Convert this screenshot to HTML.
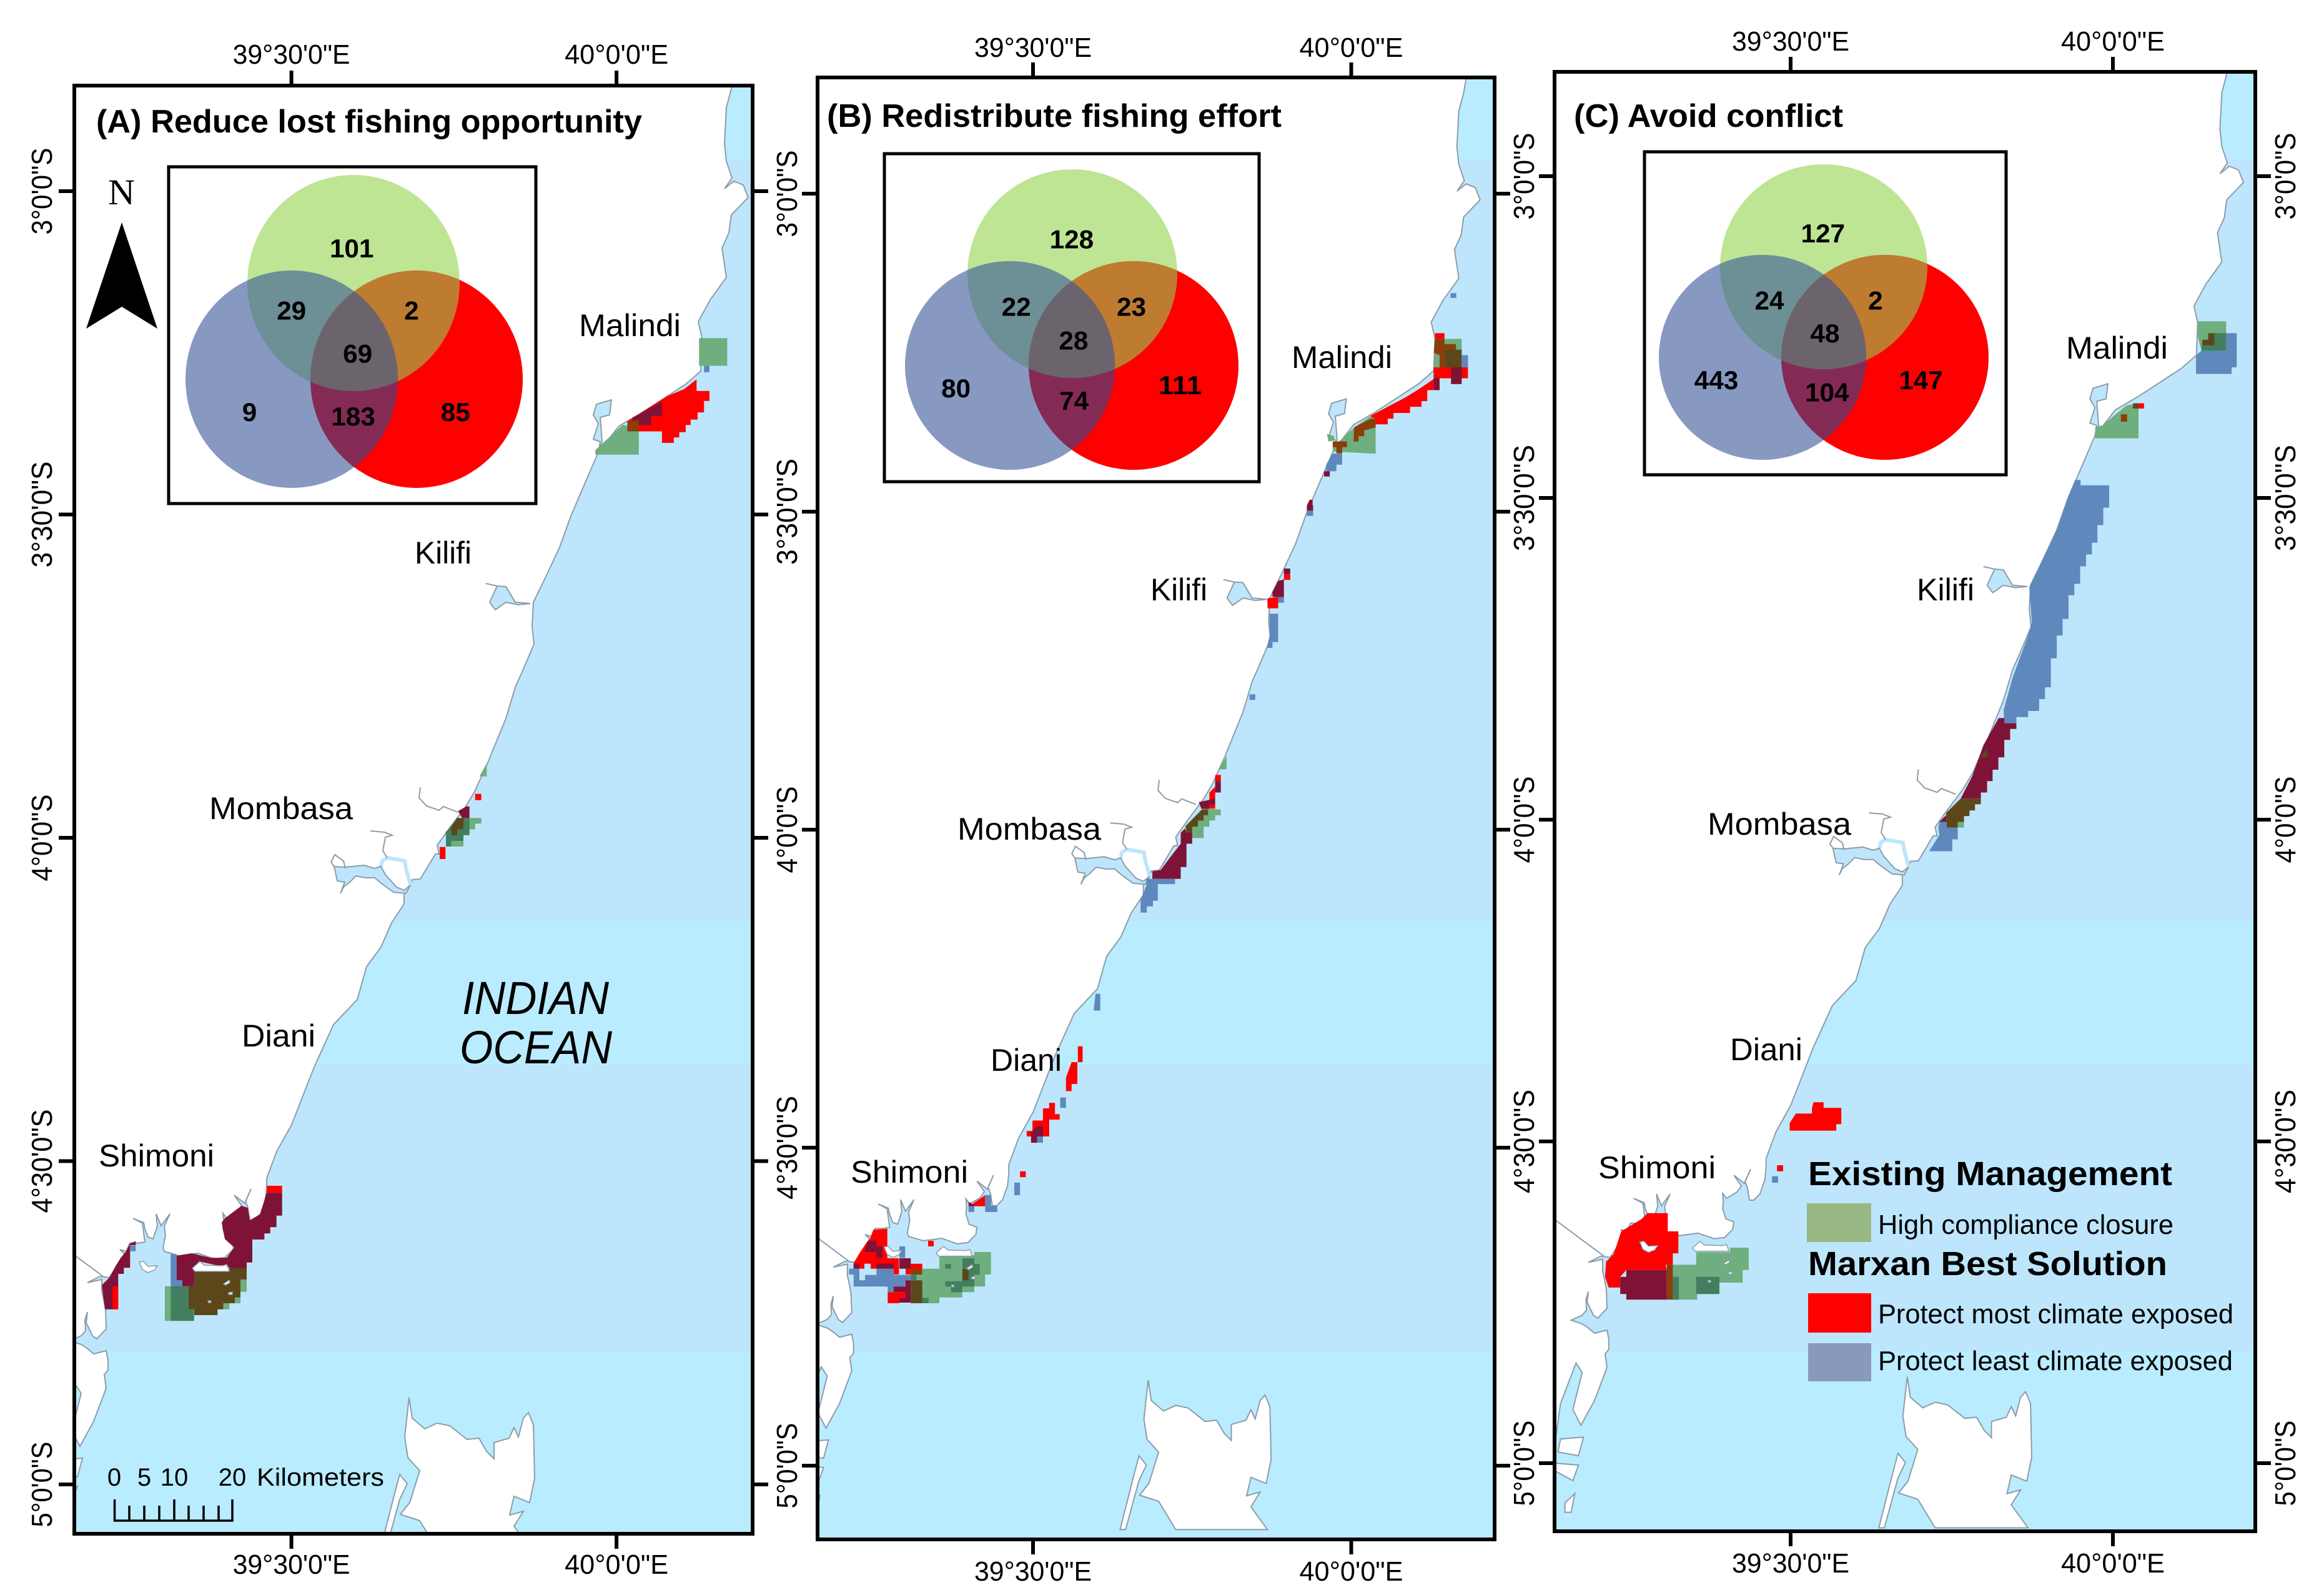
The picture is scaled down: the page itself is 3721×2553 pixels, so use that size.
<!DOCTYPE html>
<html lang="en">
<head>
<meta charset="utf-8">
<title>Marxan best solutions for the Kenyan coast</title>
<style>
html,body{margin:0;padding:0;background:#fff}
svg{display:block}
text{font-family:"Liberation Sans",sans-serif;fill:#000}
.t{font-weight:bold;font-size:52px}
.c{font-size:50px}
.lb{font-weight:bold;font-size:54px}
.ln{font-size:44px}
</style>
</head>
<body>
<svg id="fig" xmlns="http://www.w3.org/2000/svg" width="3721" height="2553" viewBox="0 0 3721 2553">
  <rect width="3721" height="2553" fill="#ffffff"/>
  <g id="maps"></g>

  <g>
    <text class="t" x="154" y="212" textLength="874" lengthAdjust="spacingAndGlyphs">(A) Reduce lost fishing opportunity</text>
    <text class="c" x="927" y="538" textLength="163" lengthAdjust="spacingAndGlyphs">Malindi</text>
    <text class="c" x="664" y="902" textLength="91" lengthAdjust="spacingAndGlyphs">Kilifi</text>
    <text class="c" x="335" y="1311" textLength="230" lengthAdjust="spacingAndGlyphs">Mombasa</text>
    <text class="c" x="387" y="1675" textLength="118" lengthAdjust="spacingAndGlyphs">Diani</text>
    <text class="c" x="158" y="1867" textLength="185" lengthAdjust="spacingAndGlyphs">Shimoni</text>
    <text x="740" y="1623" font-size="74" font-style="italic" textLength="235" lengthAdjust="spacingAndGlyphs">INDIAN</text>
    <text x="736" y="1702" font-size="74" font-style="italic" textLength="244" lengthAdjust="spacingAndGlyphs">OCEAN</text>
    <text x="173" y="327" font-size="58" style="font-family:'Liberation Serif',serif" textLength="43" lengthAdjust="spacingAndGlyphs">N</text>
    <polygon points="195,356 138,526 195,491 252,526" fill="#000"/>
  </g>

  <g>
    <text x="183" y="2378" font-size="40" text-anchor="middle">0</text>
    <text x="231" y="2378" font-size="40" text-anchor="middle">5</text>
    <text x="279" y="2378" font-size="40" text-anchor="middle">10</text>
    <text x="372" y="2378" font-size="40" text-anchor="middle">20</text>
    <text x="411" y="2378" font-size="40" textLength="204" lengthAdjust="spacingAndGlyphs">Kilometers</text>
    <path fill="none" stroke="#000" stroke-width="3.5" d="M183.5 2400V2434H372V2400M279 2400V2434M207 2410V2434M231 2410V2434M255 2410V2434M302 2410V2434M326 2410V2434M350 2410V2434"/>
  </g>

  <g>
    <text class="t" x="1324" y="203" textLength="728" lengthAdjust="spacingAndGlyphs">(B) Redistribute fishing effort</text>
    <text class="c" x="2068" y="589" textLength="161" lengthAdjust="spacingAndGlyphs">Malindi</text>
    <text class="c" x="1842" y="961" textLength="91" lengthAdjust="spacingAndGlyphs">Kilifi</text>
    <text class="c" x="1533" y="1344" textLength="230" lengthAdjust="spacingAndGlyphs">Mombasa</text>
    <text class="c" x="1586" y="1714" textLength="114" lengthAdjust="spacingAndGlyphs">Diani</text>
    <text class="c" x="1362" y="1893" textLength="188" lengthAdjust="spacingAndGlyphs">Shimoni</text>
  </g>

  <g>
    <text class="t" x="2520" y="203" textLength="431" lengthAdjust="spacingAndGlyphs">(C) Avoid conflict</text>
    <text class="c" x="3308" y="574" textLength="163" lengthAdjust="spacingAndGlyphs">Malindi</text>
    <text class="c" x="3069" y="961" textLength="92" lengthAdjust="spacingAndGlyphs">Kilifi</text>
    <text class="c" x="2734" y="1336" textLength="230" lengthAdjust="spacingAndGlyphs">Mombasa</text>
    <text class="c" x="2770" y="1697" textLength="116" lengthAdjust="spacingAndGlyphs">Diani</text>
    <text class="c" x="2559" y="1886" textLength="188" lengthAdjust="spacingAndGlyphs">Shimoni</text>
  </g>

  <g>
    <text class="lb" x="2895" y="1897" textLength="583" lengthAdjust="spacingAndGlyphs">Existing Management</text>
    <rect x="2893" y="1926" width="103" height="62" fill="#98b884"/>
    <text class="ln" x="3007" y="1975" textLength="473" lengthAdjust="spacingAndGlyphs">High compliance closure</text>
    <text class="lb" x="2895" y="2041" textLength="575" lengthAdjust="spacingAndGlyphs">Marxan Best Solution</text>
    <rect x="2895" y="2070" width="101" height="63" fill="#ff0000"/>
    <text class="ln" x="3007" y="2118" textLength="569" lengthAdjust="spacingAndGlyphs">Protect most climate exposed</text>
    <rect x="2895" y="2150" width="101" height="61" fill="#8899bd"/>
    <text class="ln" x="3007" y="2193" textLength="568" lengthAdjust="spacingAndGlyphs">Protect least climate exposed</text>
  </g>
</svg>

<script>
// ---- Axis data ----
const lonTicks = [39.5, 40];
const lonTickLabels = ['39°30\'0"E', '40°0\'0"E'];
const lonLabelWidths = [188, 166];
const latTicks = [3, 3.5, 4, 4.5, 5];
const latTickLabels = ['3°0\'0"S', '3°30\'0"S', '4°0\'0"S', '4°30\'0"S', '5°0\'0"S'];
const latLabelWidths = [139, 170, 139, 166, 137];

// ---- Venn counts, reading order: top, top-left, top-right, centre, left, bottom, right ----
const vennCountsA = [101, 29, 2, 69, 9, 183, 85];
const vennCountsB = [128, 22, 23, 28, 80, 74, 111];
const vennCountsC = [127, 24, 2, 48, 443, 104, 147];

// ---- Ocean shading bands ----
const bandEdges = [0, 255, 1475, 1704, 2163, 2600];
const bandColors = ['#b9ecff', '#bde6fd', '#b9ecff', '#bde6fd', '#b9ecff'];

// ---- Geography in survey units (shared by all panels, converted to lon/lat) ----
const coastline = [[1190,0],[1183,60],[1178,100],[1171,142],[1163,172],[1160,230],[1163,258],[1172,285],[1160,302],[1175,290],[1190,296],[1198,316],[1171,344],[1167,373],[1156,397],[1163,444],[1137,480],[1118,515],[1124,541],[1122,594],[1098,615],[1027,661],[991,682],[958,724],[932,784],[914,826],[896,876],[873,925],[854,964],[852,1003],[855,1031],[834,1080],[825,1100],[810,1150],[780,1223],[760,1267],[745,1292],[720,1325],[700,1353],[703,1367],[697,1367],[673,1407],[660,1408],[657,1417],[647,1428],[647,1447],[627,1477],[610,1516],[587,1547],[572,1600],[534,1640],[503,1708],[467,1800],[443,1843],[427,1886],[427,1900],[425,1920],[417,1943],[407,1953],[400,1953],[397,1933],[393,1923],[402,1903],[392,1926],[375,1913],[387,1930],[380,1940],[363,1950],[357,1942],[358,1955],[357,1967],[362,1983],[375,1988],[373,2000],[360,2013],[343,2015],[317,2006],[287,2010],[263,2003],[261,1997],[265,1977],[263,1963],[272,1943],[258,1962],[250,1943],[252,1963],[245,1983],[237,1980],[232,1967],[230,1957],[213,1950],[228,1958],[232,1988],[220,1990],[208,1990],[202,2003],[192,2000],[202,2010],[187,2027],[175,2045],[160,2043],[140,2053],[163,2048],[163,2067],[166,2080],[169,2097],[170,2127],[155,2143],[148,2138],[138,2117],[140,2100],[136,2113],[137,2130],[130,2138],[112,2146],[130,2152],[138,2157],[150,2167],[170,2162],[173,2177],[173,2193],[167,2200],[170,2222],[150,2275],[128,2315],[115,2290],[130,2230],[120,2215],[95,2280],[88,2330],[20,2330],[20,0]];
const pembaIsland = [[655,2237],[660,2270],[680,2287],[700,2278],[720,2282],[748,2304],[767,2302],[779,2323],[791,2335],[791,2309],[815,2302],[823,2285],[830,2300],[838,2270],[846,2261],[854,2280],[856,2366],[848,2405],[823,2395],[816,2425],[838,2419],[823,2443],[850,2480],[700,2480],[672,2434],[641,2424],[656,2405],[672,2354],[653,2333],[648,2300]];
const pembaSliver = [[640,2360],[633,2386],[609,2480],[618,2480],[640,2400],[652,2375]];
const smallIslands = [[[95,2337],[132,2334],[124,2364],[91,2358]],[[87,2376],[124,2379],[115,2404],[87,2389]],[[102,2440],[118,2425],[112,2455],[102,2455]]];
const waterBodies = [
  [[958,724],[961,707],[950,703],[958,678],[950,664],[955,647],[979,640],[976,664],[961,668],[964,707]],
  [[849,966],[825,964],[810,939],[796,938],[784,964],[793,976],[810,964],[830,968]],
  [[535,1387],[553,1388],[583,1385],[600,1390],[610,1387],[617,1400],[635,1420],[647,1425],[657,1417],[650,1430],[630,1428],[612,1415],[600,1405],[585,1405],[570,1402],[560,1412],[550,1420],[545,1430],[552,1412],[540,1410]]
];
const waterLines = [
  [[673,1260],[671,1277],[683,1290],[703,1297],[710,1291],[733,1300]],
  [[620,1373],[613,1362],[617,1340],[628,1337],[615,1332],[593,1330]],
  [[535,1387],[530,1380],[536,1368],[550,1378],[553,1390]],
  [[778,934],[796,938]],
  [[80,1980],[165,2043]]
];
const waterChannels = [[[610,1387],[612,1378],[620,1373],[632,1375],[648,1378],[650,1390],[655,1408],[657,1417]]];
const islets = [
  [[223,2020],[230,2019],[237,2027],[252,2026],[247,2033],[237,2037],[228,2032]],
  [[308,2030],[320,2019],[327,2025],[357,2026],[363,2024],[367,2035],[312,2035]],
  [[358,2055],[367,2049],[368,2053],[361,2057]],
  [[366,2069],[372,2068],[372,2072],[366,2072]],
  [[333,2082],[337,2082],[338,2085],[334,2085]]
];

// Source sheets: readings of the reference, [originX, originY, scaleX, scaleY]
const sheets = {
  a1:[0,0,.791,.574], a9:[500,1100,1/3,1/3], a12:[130,1900,1/3,1/3],
  b7:[1240,0,.765,.51], b6:[1700,400,.459,.7015], b3:[1240,1500,.765,.6716], b10:[1340,1900,1/3,1/3],
  c8:[2440,0,.817,.51], c5:[2800,400,.587,.7015], c4:[2450,1600,.81,.608]
};
const zoneColors = {red:'#ff0000',purple:'#7f1237',brown:'#5c471b',dgreen:'#437e5e',lgreen:'#6fae7e',blue:'#5f88bd',orange:'#8b3d0a'};

// ---- Planning-unit zones: [sheet, colour, outline] ----
const zonesA = [
['a1','lgreen',[1415,943,1472,943,1472,1020,1415,1020]],
['a1','blue',[1425,1020,1436,1020,1436,1038,1425,1038]],
['a1','lgreen',[1205,1268,1205,1255,1260,1185,1293,1190,1293,1268]],
['a1','red',[1410,1058,1410,1090,1436,1090,1436,1118,1425,1118,1425,1150,1412,1150,1412,1170,1398,1170,1398,1185,1388,1185,1388,1205,1375,1205,1375,1220,1364,1220,1364,1235,1340,1235,1340,1203,1270,1203,1270,1175,1350,1105,1385,1085]],
['a1','purple',[1340,1120,1340,1160,1318,1160,1318,1185,1280,1185,1280,1165]],
['a1','orange',[1270,1178,1293,1170,1293,1203,1270,1203]],
['a9','lgreen',[838,365,838,428,803,428]],
['a9','red',[782,512,812,512,812,542,782,542]],
['a9','red',[612,767,640,767,640,825,612,825]],
['a9','lgreen',[755,628,812,628,812,655,782,655,782,683,755,683]],
['a9','lgreen',[668,738,726,738,726,765,668,765]],
['a9','lgreen',[640,695,668,670,668,700,640,710]],
['a9','dgreen',[725,628,755,628,755,710,726,710,726,738,668,738,668,765,642,765,642,695,690,640]],
['a9','brown',[695,628,726,628,726,682,696,682,696,710,668,710,668,670]],
['a9','purple',[700,595,740,572,755,572,755,628,720,628]],
['a12','purple',[235,270,262,260,262,280,235,280,235,388,205,388,205,417,178,417,178,587,115,587,108,540,100,470,135,435,165,380,190,340,215,310]],
['a12','blue',[235,282,262,282,262,308,235,308]],
['a12','red',[150,476,178,476,178,587,150,587]],
['a12','purple',[965,28,965,137,938,137,938,193,908,193,908,223,880,223,880,252,822,252,822,362,795,362,795,390,712,390,700,372,660,378,570,358,535,390,545,405,542,476,458,476,458,330,530,318,620,340,700,340,735,290,690,250,675,170,690,150,770,90,800,100,810,160,860,130,890,28]],
['a12','red',[892,-6,965,-6,965,28,892,28]],
['a12','brown',[545,405,712,405,712,390,795,390,795,445,765,445,765,530,738,530,738,558,683,558,683,587,655,587,655,615,543,615,543,587,515,587,515,476,542,476]],
['a12','lgreen',[765,445,795,445,795,503,765,503]],
['a12','lgreen',[738,530,765,530,765,558,738,558]],
['a12','lgreen',[683,558,712,558,712,587,683,587]],
['a12','lgreen',[402,476,430,476,430,643,402,643]],
['a12','dgreen',[430,476,515,476,515,587,542,587,542,643,430,643]],
['a12','blue',[430,320,458,325,458,447,486,447,486,476,430,476]]
];

const zonesB = [
['b7','blue',[1415,920,1427,920,1427,935,1415,935]],
['b6','lgreen',[1300,240,1320,203,1395,203,1395,268,1300,268]],
['b6','red',[1302,190,1335,190,1335,203,1302,203]],
['b6','orange',[1302,203,1335,203,1335,215,1375,215,1375,228,1335,228,1335,268,1318,268,1318,240,1298,235]],
['b6','brown',[1335,228,1395,228,1395,268,1335,268]],
['b6','blue',[1395,240,1417,240,1417,268,1395,268]],
['b6','red',[1297,268,1417,268,1417,293,1358,293,1318,293,1297,295]],
['b6','red',[1297,295,1297,320,1275,320,1275,345,1255,345,1255,358,1215,358,1215,372,1157,372,1157,385,1137,385,1137,398,1078,398,1078,378,1195,338,1240,320]],
['b6','purple',[1358,268,1395,268,1395,306,1358,306]],
['b6','purple',[1297,293,1318,293,1318,320,1297,320]],
['b6','lgreen',[945,460,945,450,1020,405,1075,380,1095,385,1095,465]],
['b6','lgreen',[925,420,950,425,950,435,930,437]],
['b6','orange',[1020,405,1040,398,1078,385,1095,385,1095,405,1055,412,1055,425,1035,425,1035,437,1018,437]],
['b6','orange',[945,437,995,437,995,450,978,450,978,464,958,464,958,450,945,450]],
['b6','blue',[978,464,978,490,958,490,958,505,922,505,922,490,945,465]],
['b6','purple',[915,505,935,505,935,517,915,517]],
['b6','purple',[855,583,875,583,875,570,865,570,855,583,855,595,877,595,877,583]],
['b6','blue',[855,595,877,595,877,607,855,607]],
['b6','purple',[775,727,797,727,797,740,775,740]],
['b6','red',[775,740,797,740,797,753,775,753]],
['b6','purple',[735,780,755,755,775,752,775,792,735,792]],
['b6','blue',[755,792,775,792,775,805,755,805]],
['b6','red',[717,795,755,792,755,818,718,818]],
['b6','blue',[725,830,755,830,755,895,735,895,735,908,715,908,725,880]],
['b6','blue',[655,1014,675,1014,675,1027,655,1027]],
['b6','lgreen',[575,1155,575,1185,548,1185]],
['b6','red',[535,1198,555,1198,555,1212,535,1212]],
['b6','purple',[535,1212,555,1212,555,1238,535,1238]],
['b6','red',[515,1238,535,1225,535,1275,515,1275]],
['b6','purple',[478,1260,535,1252,535,1265,515,1265,515,1275,490,1280]],
['b6','lgreen',[555,1277,555,1290,535,1290,535,1302,515,1302,515,1316,495,1316,495,1342,455,1342,455,1330,435,1330,430,1315,490,1275]],
['b6','brown',[490,1277,510,1277,510,1290,495,1290,495,1302,475,1302,475,1316,455,1316,455,1330,435,1330,432,1315]],
['b6','purple',[415,1330,430,1320,435,1330,455,1330,455,1355,435,1355,435,1408,415,1408,415,1435,316,1435,316,1418,345,1415,385,1380,415,1355]],
['b6','blue',[295,1435,395,1435,395,1447,335,1447,335,1485,318,1485,318,1498,297,1498,297,1512,275,1512,275,1485,295,1450]],
['b3','blue',[672,135,682,135,682,175,668,175]],
['b3','red',[635,260,645,260,645,298,634,298,634,350,622,350,622,367,610,367,610,335,622,298,635,298]],
['b3','blue',[598,382,610,382,610,407,598,407]],
['b3','red',[575,395,587,395,587,422,597,422,597,435,575,435,575,475,528,475,528,462,540,462,540,437,562,437,562,408,575,408]],
['b3','purple',[537,465,550,450,562,450,562,475,550,475,550,490,537,490]],
['b3','blue',[550,475,562,475,562,490,550,490]],
['b3','red',[514,558,526,558,526,572,514,572]],
['b3','blue',[502,585,514,585,514,615,502,615]],
['b10','red',[712,38,712,92,660,92,655,78,690,55]],
['b10','purple',[632,72,660,85,660,92,632,92]],
['b10','blue',[632,92,660,92,660,120,632,120]],
['b10','blue',[712,38,740,38,740,90,770,90,770,120,712,120]],
['b10','red',[438,258,465,258,465,285,438,285]],
['b10','red',[175,205,242,200,242,342,298,342,298,420,272,420,272,392,162,392,162,368,132,368,132,392,80,392,80,365,110,315,140,270,160,245]],
['b10','purple',[148,258,190,258,190,285,218,285,218,340,190,340,190,312,135,312,135,300]],
['b10','purple',[190,368,272,368,272,392,190,392]],
['b10','purple',[80,368,108,368,108,392,80,392]],
['b10','purple',[300,342,355,342,355,392,300,392]],
['b10','red',[355,368,410,368,410,395,355,395]],
['b10','red',[330,392,355,392,355,420,330,420]],
['b10','orange',[355,392,410,392,410,420,355,420]],
['b10','blue',[58,392,108,392,108,448,135,448,135,422,190,422,190,392,272,392,272,422,355,422,355,448,330,448,330,478,272,478,272,505,244,505,244,478,80,478,80,420,58,420]],
['b10','blue',[300,285,328,285,328,340,300,340]],
['b10','purple',[330,448,355,448,355,555,300,555,300,532,330,532,330,505,272,505,272,478,330,478]],
['b10','red',[244,505,330,505,330,532,300,532,300,558,244,558]],
['b10','lgreen',[410,392,492,392,492,328,660,328,660,312,740,312,740,420,712,420,712,478,660,478,660,505,602,505,602,530,492,530,492,558,410,558,410,448,382,448,355,448,355,420,410,420]],
['b10','brown',[355,448,410,448,410,558,355,558]],
['b10','dgreen',[355,420,382,420,382,448,355,448]],
['b10','dgreen',[410,532,440,532,440,558,410,558]],
['b10','dgreen',[520,370,548,370,548,392,520,392]],
['b10','dgreen',[603,342,660,342,660,370,686,370,686,420,660,420,660,478,602,478,602,505,548,505,548,478,520,478,520,452,602,452]],
['b10','brown',[603,393,632,393,632,448,603,448]]
];

const zonesC = [
['c5','lgreen',[1225,163,1302,163,1302,230,1235,230,1225,200]],
['c5','blue',[1302,190,1331,190,1331,268,1317,268,1317,283,1220,283,1220,240,1235,230,1302,230]],
['c5','dgreen',[1270,190,1302,190,1302,230,1235,230,1235,218,1270,218]],
['c5','brown',[1253,190,1270,190,1270,218,1237,218,1237,205,1253,205]],
['c5','lgreen',[945,430,945,405,965,400,1030,355,1063,350,1063,430]],
['c5','orange',[1015,375,1032,375,1032,392,1015,392]],
['c5','brown',[1048,350,1063,350,1063,362,1048,362]],
['c5','red',[1063,350,1078,350,1078,362,1063,362]],
['c5','blue',[890,525,905,525,905,537,983,537,983,588,967,588,967,628,951,628,951,668,936,668,936,695,920,695,920,722,904,722,904,762,888,762,888,788,872,788,872,842,856,842,856,880,840,880,840,932,824,932,824,998,808,998,808,1025,792,1025,792,1052,762,1052,762,1066,730,1066,730,1080,697,1080,695,1050,720,975,760,885,772,850,765,770,800,710,840,640,870,565]],
['c5','purple',[682,1068,697,1068,697,1080,730,1080,730,1093,713,1093,713,1118,697,1118,697,1158,681,1158,681,1186,665,1186,665,1212,650,1212,650,1238,633,1238,633,1252,578,1252,610,1200,640,1130]],
['c5','brown',[650,1135,650,1158,632,1158]],
['c5','blue',[520,1305,540,1305,540,1318,570,1318,570,1345,555,1345,555,1372,492,1372,520,1335,517,1320]],
['c5','brown',[578,1252,633,1252,633,1265,617,1265,617,1279,602,1279,602,1292,587,1292,587,1305,570,1305,570,1318,540,1318,540,1305,538,1285]],
['c5','lgreen',[570,1305,587,1305,587,1318,570,1318]],
['c5','purple',[520,1305,538,1290,540,1305]],
['c4','red',[557,285,560,270,580,270,580,285,615,285,615,328,605,328,605,345,513,345,513,325,525,300,557,300]],
['c4','red',[488,436,500,436,500,452,488,452]],
['c4','blue',[478,465,490,465,490,482,478,482]],
['c4','red',[232,562,272,562,272,610,293,610,293,668,282,668,282,698,268,698,270,712,190,712,178,730,178,758,155,758,148,730,150,690,165,670,180,610,220,578]],
['c4','purple',[190,712,270,712,270,790,190,790,190,775,178,775,178,730,190,730]],
['c4','lgreen',[328,665,395,665,395,653,432,653,432,712,420,712,420,745,374,745,374,775,330,775,330,790,282,790,282,698,328,698]],
['c4','orange',[270,698,282,698,282,790,270,790]],
['c4','dgreen',[282,730,294,730,294,790,282,790]],
['c4','dgreen',[328,730,374,730,374,775,328,775]]
];

// ---- Panel layout ----
const panelA = {id:'a',x0:466.6,kx:1041,y0:306,ky:1035,frame:[119,137,1205,2455],top:102,bottom:2519,leftText:83,rightText:null,leftTicks:true,
  box:[270,267,858,806],green:[566,453,170,173],bluec:[467,607,170,174],redc:[667,607,170,174],
  sheet:'a1',anchors:[[712,692],[590,865],[833,865],[724,985],[505,1148],[715,1160],[922,1148]],counts:vennCountsA,zones:zonesA};
const panelB = {id:'b',x0:1654,kx:1019,y0:310,ky:1018,frame:[1309,124,2393,2464],top:91,bottom:2530,leftText:1276,rightText:null,leftTicks:true,
  box:[1416,246,2016,771],green:[1717,438,168,167],bluec:[1617,585,168,167],redc:[1815,585,168,167],
  sheet:'b7',anchors:[[622,750],[506,962],[747,962],[626,1068],[380,1218],[627,1257],[849,1208]],counts:vennCountsB,zones:zonesB};
const panelC = {id:'c',x0:2867,kx:1032,y0:282,ky:1030,frame:[2489,115,3611,2451],top:81,bottom:2517,leftText:2456,rightText:3675,leftTicks:true,
  box:[2633,243,3212,760],green:[2920,427,166,164],bluec:[2822,572,166,164],redc:[3018,572,166,164],
  sheet:'c8',anchors:[[586,731],[481,942],[689,942],[590,1045],[377,1192],[594,1230],[778,1192]],counts:vennCountsC,zones:zonesC};
const panels = [panelA, panelB, panelC];

// ---- Axis functions ----
const NS = 'http://www.w3.org/2000/svg';
function lonOf(u){ return 39.5 + (u - 466.6) / 1041; }
function latOf(v){ return 3 + (v - 306) / 1035; }
function xScale(p, lon){ return p.x0 + (lon - 39.5) * p.kx; }
function yScale(p, lat){ return p.y0 + (lat - 3) * p.ky; }
function geoPts(p, pts){ return pts.map(q => xScale(p, lonOf(q[0])).toFixed(1) + ',' + yScale(p, latOf(q[1])).toFixed(1)).join(' '); }
function sheetX(s, v){ const t = sheets[s]; return t[0] + v * t[2]; }
function sheetY(s, v){ const t = sheets[s]; return t[1] + v * t[3]; }
function sheetPts(s, flat){ const out = []; for (let i = 0; i < flat.length; i += 2) out.push(sheetX(s, flat[i]).toFixed(1) + ',' + sheetY(s, flat[i + 1]).toFixed(1)); return out.join(' '); }
function mk(tag, parent, attrs){
  const el = document.createElementNS(NS, tag);
  for (const k in attrs) el.setAttribute(k, attrs[k]);
  parent.appendChild(el);
  return el;
}

const root = document.getElementById('maps');
const defs = mk('defs', root, {});
const LAND_STROKE = '#8d9ca8';

panels.forEach(function(p){
  const f = p.frame;
  const clipId = 'clip-' + p.id;
  const cp = mk('clipPath', defs, {id: clipId});
  mk('rect', cp, {x: f[0], y: f[1], width: f[2] - f[0], height: f[3] - f[1]});

  const panel = mk('g', root, {});
  
  

  const map = mk('g', panel, {'clip-path': 'url(#' + clipId + ')'});
  
  

  bandColors.forEach(function(col, i){
    const r = mk('rect', map, {x: f[0], y: bandEdges[i], width: f[2] - f[0], height: bandEdges[i + 1] - bandEdges[i], fill: col});
    
    
  });

  const land = mk('polygon', map, {points: geoPts(p, coastline), fill: '#fff', stroke: LAND_STROKE, 'stroke-width': 2});
  
  

  const pemba = mk('polygon', map, {points: geoPts(p, pembaIsland), fill: '#fff', stroke: LAND_STROKE, 'stroke-width': 2});
  
  

  const sliver = mk('polygon', map, {points: geoPts(p, pembaSliver), fill: '#fff', stroke: LAND_STROKE, 'stroke-width': 2});
  
  

  smallIslands.forEach(function(s){
    const el = mk('polygon', map, {points: geoPts(p, s), fill: '#fff', stroke: LAND_STROKE, 'stroke-width': 2});
    
    
  });

  waterChannels.forEach(function(s){
    const el = mk('polyline', map, {points: geoPts(p, s), fill: 'none', stroke: '#bde6fd', 'stroke-width': 6});
    
    
  });

  waterBodies.forEach(function(s){
    const el = mk('polygon', map, {points: geoPts(p, s), fill: '#bde6fd', stroke: LAND_STROKE, 'stroke-width': 2});
    
    
  });

  waterLines.forEach(function(s){
    const el = mk('polyline', map, {points: geoPts(p, s), fill: 'none', stroke: LAND_STROKE, 'stroke-width': 2});
    
    
  });

  p.zones.forEach(function(z){
    const el = mk('polygon', map, {points: sheetPts(z[0], z[2]), fill: zoneColors[z[1]]});
    
    
  });

  islets.forEach(function(s){
    const el = mk('polygon', map, {points: geoPts(p, s), fill: '#fff', stroke: LAND_STROKE, 'stroke-width': 1.5});
    
    
  });

  const frame = mk('rect', panel, {x: f[0], y: f[1], width: f[2] - f[0], height: f[3] - f[1], fill: 'none', stroke: '#000', 'stroke-width': 6});
  
  

  // longitude ticks and labels
  lonTicks.forEach(function(lon, i){
    const x = xScale(p, lon);
    const t1 = mk('line', panel, {x1: x, x2: x, y1: f[1] - 24, y2: f[1], stroke: '#000', 'stroke-width': 6});
    
    
    const t2 = mk('line', panel, {x1: x, x2: x, y1: f[3], y2: f[3] + 24, stroke: '#000', 'stroke-width': 6});
    
    
    [p.top, p.bottom].forEach(function(y){
      const tx = mk('text', panel, {x: x, y: y, 'text-anchor': 'middle', 'font-size': 44, textLength: lonLabelWidths[i], lengthAdjust: 'spacingAndGlyphs'});
      
      
      tx.textContent = lonTickLabels[i];
    });
  });

  // latitude ticks and labels
  latTicks.forEach(function(lat, i){
    const y = yScale(p, lat);
    const t1 = mk('line', panel, {x1: f[0] - 25, x2: f[0], y1: y, y2: y, stroke: '#000', 'stroke-width': 6});
    
    
    const t2 = mk('line', panel, {x1: f[2], x2: f[2] + 25, y1: y, y2: y, stroke: '#000', 'stroke-width': 6});
    
    
    [p.leftText, p.rightText].forEach(function(x){
      if (x === null) return;
      const tx = mk('text', panel, {transform: 'translate(' + x + ',' + y + ') rotate(-90)', 'text-anchor': 'middle', 'font-size': 46, textLength: latLabelWidths[i], lengthAdjust: 'spacingAndGlyphs'});
      
      
      tx.textContent = latTickLabels[i];
    });
  });

  // Venn inset
  const venn = mk('g', panel, {});
  
  
  const b = p.box;
  const box = mk('rect', venn, {x: b[0], y: b[1], width: b[2] - b[0], height: b[3] - b[1], fill: '#fff', stroke: '#000', 'stroke-width': 5});
  
  

  const circleOf = {g: p.green, b: p.bluec, r: p.redc};
  ['g', 'b', 'r'].forEach(function(k){
    const c = circleOf[k];
    const vc = mk('clipPath', defs, {id: 'v-' + p.id + k});
    mk('ellipse', vc, {cx: c[0], cy: c[1], rx: c[2], ry: c[3]});
  });
  function region(col, shape, clips, name){
    let parent = venn;
    clips.forEach(function(k){ parent = mk('g', parent, {'clip-path': 'url(#v-' + p.id + k + ')'}); });
    const c = circleOf[shape];
    const e = mk('ellipse', parent, {cx: c[0], cy: c[1], rx: c[2], ry: c[3], fill: col});
    
    
  }
  region('#bde594', 'g', [], 'venn-circle-closure');
  region('#8799c1', 'b', [], 'venn-circle-least-exposed');
  region('#ff0000', 'r', [], 'venn-circle-most-exposed');
  region('#6d8f96', 'b', ['g'], 'venn-overlap-closure-least');
  region('#bd7c30', 'r', ['g'], 'venn-overlap-closure-most');
  region('#842b55', 'r', ['b'], 'venn-overlap-least-most');
  region('#6c646c', 'r', ['b', 'g'], 'venn-overlap-all');

  p.counts.forEach(function(n, i){
    const a = p.anchors[i];
    const digits = String(n).length;
    const tx = mk('text', venn, {x: sheetX(p.sheet, a[0]), y: sheetY(p.sheet, a[1]) + 15, 'text-anchor': 'middle', 'font-size': 42, 'font-weight': 'bold', textLength: digits * 23.5, lengthAdjust: 'spacingAndGlyphs'});
    
    
    tx.textContent = n;
  });
});
</script>
</body>
</html>
